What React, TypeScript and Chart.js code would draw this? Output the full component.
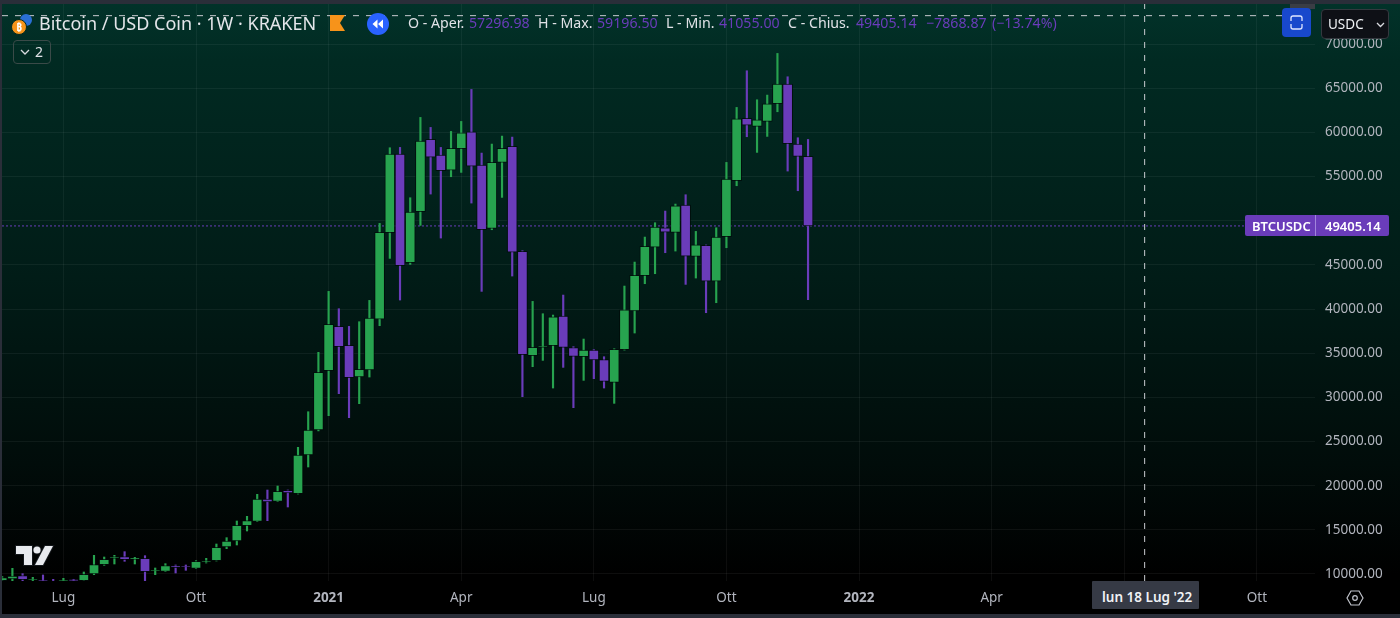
import React, { useEffect, useRef } from "react";
import { Chart, registerables } from "chart.js";

Chart.register(...registerables);

const FONT = '"Noto Sans", sans-serif';
const GREEN = "#27a34f";
const PURPLE = "#6a3cba";

const weekIndex = Array.from({ length: 80 }, (_, i) => i);
const opens = [9245,9434,9811,9321,9321,9208,9170,9358,9245,10000,11056,11773,11962,11660,11773,10340,10302,10943,10905,10641,11321,11509,13056,13735,15471,15962,18490,18226,19471,19094,23470,26300,33015,38033,35883,32298,33091,38863,48636,57540,45240,51013,59200,57427,55729,58143,60068,56295,49126,56597,58408,46523,34713,35656,35845,39203,35619,34600,35355,34261,31695,35392,39769,43768,47013,49201,48673,51767,45957,47202,43165,48183,54521,61577,60671,61237,63237,65463,58672,57296.98];
const closes = [9585,9774,9359,9434,9208,9150,9300,9245,9962,11056,11660,11962,11622,11811,10264,10453,10943,10717,10792,11434,11509,13018,13735,15509,16037,18490,18150,19358,19169,23470,26300,32827,38260,35732,32223,33166,38977,48673,57540,44900,50975,59011,57200,55653,58181,59955,56182,48975,56597,58181,46447,34826,35656,35807,39128,35656,34638,35355,34223,31808,35430,39920,43806,47089,49277,48711,51692,45994,47277,43165,48145,54710,61539,60822,61426,63237,65463,58709,57274,49405.14];
const highs = [9700,10641,10038,9623,9887,9396,9510,9400,10226,12113,11924,12113,12528,11887,12075,10679,11170,11019,11019,11509,11773,13396,14113,16000,16528,19018,19508,19961,19508,24338,28372,35092,41995,40033,38033,38562,40976,49692,58257,58295,52597,61690,60558,58294,60105,61237,64859,57653,58672,59577,59464,46600,40863,39467,39316,41580,35732,36600,35400,34600,35500,42599,45315,48145,49767,51088,51880,52937,48786,47250,49201,56597,62822,66972,63690,64218,68934,66293,59388,59196.5];
const lows = [9000,9245,9245,9208,9150,9000,9100,9100,9150,9925,10981,11132,11434,11132,9245,9925,10264,10113,10415,10600,11245,11472,12867,13283,14868,15924,16037,18188,17584,19056,22112,26200,27922,30412,27695,29280,32298,38109,45730,41014,45051,49466,53012,48032,54974,55465,51993,41995,48975,52635,43731,30072,33468,34185,31053,33393,28827,31921,32110,31053,29318,35350,37279,42863,43995,46372,46560,42787,43504,39580,40712,46938,53955,59502,57729,59540,62332,55616,53390,41055];

const priceTicks = [10000,15000,20000,25000,30000,35000,40000,45000,50000,55000,60000,65000,70000];
const timeTickWeeks = [6,19,32,45,58,71,84,97,110,123];
const timeTickLabels = ["Lug","Ott","2021","Apr","Lug","Ott","2022","Apr","","Ott"];
const boldTimeLabels = ["2021","2022"];

const lastPrice = 49405.14;
const crosshairPrice = 73210;
const crosshairWeek = 112;
const xMin = -0.02;
const xMax = 128.7;
const yMin = 9207;
const yMax = 74530;

function Txt(p: { x: number; y?: number; c?: string; s?: number; w?: number; children: React.ReactNode; title?: boolean }) {
  return (
    <span
      style={{
        position: "absolute",
        left: p.x,
        top: (p.y ?? 23) - 11,
        lineHeight: "22px",
        fontFamily: FONT,
        fontSize: p.s ?? 14.2,
        fontWeight: p.w ?? 400,
        color: p.c ?? "#e0e2e7",
        whiteSpace: "nowrap",
      }}
    >
      {p.children}
    </span>
  );
}

export default function App() {
  const ref = useRef<HTMLCanvasElement>(null);

  useEffect(() => {
    document.body.style.margin = "0";
    const colors = opens.map((o, i) => (closes[i] >= o ? GREEN : PURPLE));
    const chart = new Chart(ref.current!, {
      type: "bar",
      data: {
        datasets: [
          {
            type: "line",
            data: [{ x: crosshairWeek, y: yMin }, { x: crosshairWeek, y: yMax }],
            borderColor: "#c9cbd0",
            borderWidth: 1,
            borderDash: [6, 7],
            pointRadius: 0,
            order: 0,
          },
          {
            type: "line",
            data: [{ x: xMin, y: crosshairPrice }, { x: xMax, y: crosshairPrice }],
            borderColor: "#c9cbd0",
            borderWidth: 1,
            borderDash: [6, 7],
            pointRadius: 0,
            order: 0,
          },
          {
            data: weekIndex.map((x, i) => ({ x, y: [opens[i], closes[i]] })),
            backgroundColor: colors,
            borderColor: "rgba(0,10,8,0.75)",
            borderWidth: 1,
            borderSkipped: false,
            barThickness: 10,
            grouped: false,
            order: 1,
          },
          {
            data: weekIndex.map((x, i) => ({ x, y: [lows[i], highs[i]] })),
            backgroundColor: colors,
            borderWidth: 0,
            borderSkipped: false,
            barThickness: 1.5,
            grouped: false,
            order: 2,
          },
          {
            type: "line",
            data: [{ x: xMin, y: lastPrice }, { x: xMax, y: lastPrice }],
            borderColor: PURPLE,
            borderWidth: 1,
            borderDash: [2, 2],
            pointRadius: 0,
            order: 3,
          },
        ] as any,
      },
      options: {
        responsive: false,
        devicePixelRatio: 1,
        animation: false,
        layout: { padding: { left: 2, top: 4, right: 0, bottom: 4 } },
        plugins: { legend: { display: false }, tooltip: { enabled: false } },
        scales: {
          x: {
            type: "linear",
            min: xMin,
            max: xMax,
            offset: false,
            border: { display: false },
            grid: { color: "rgba(255,255,255,0.05)", drawTicks: false, offset: false },
            afterBuildTicks: (s: any) => {
              s.ticks = timeTickWeeks.map((value) => ({ value }));
            },
            afterFit: (s: any) => {
              s.height = 33;
              s.paddingLeft = 0;
              s.paddingRight = 0;
            },
            ticks: {
              autoSkip: false,
              maxRotation: 0,
              padding: 9,
              color: "#b2b5be",
              font: (ctx: any) => ({
                family: FONT,
                size: 13.5,
                weight: boldTimeLabels.includes(timeTickLabels[ctx.index]) ? "bold" : "normal",
              }),
              callback: (_v: any, i: number) => timeTickLabels[i],
            },
          },
          y: {
            position: "right",
            min: yMin,
            max: yMax,
            border: { display: false },
            grid: { color: "rgba(255,255,255,0.055)", drawTicks: false },
            afterBuildTicks: (s: any) => {
              s.ticks = priceTicks.map((value) => ({ value }));
            },
            afterFit: (s: any) => {
              s.width = 85;
              s.paddingTop = 0;
              s.paddingBottom = 0;
            },
            ticks: {
              autoSkip: false,
              padding: 10,
              color: "#b2b5be",
              font: { family: FONT, size: 13.5 },
              callback: (v: any) => Number(v).toFixed(2),
            },
          },
        },
      },
    });
    return () => chart.destroy();
  }, []);

  return (
    <div
      style={{
        position: "fixed",
        left: 0,
        top: 0,
        width: 1400,
        height: 618,
        overflow: "hidden",
        background: "linear-gradient(180deg,#02332a 0%,#012a22 10%,#011c17 45%,#010c0a 75%,#000000 93%)",
      }}
    >
      <canvas ref={ref} width={1400} height={618} style={{ position: "absolute", left: 0, top: 0, display: "block" }} />

      {/* frame */}
      <div style={{ position: "absolute", left: 0, top: 0, width: 1400, height: 4, background: "#2a2e39" }} />
      <div style={{ position: "absolute", left: 0, top: 614, width: 1400, height: 4, background: "#2a2e39" }} />
      <div style={{ position: "absolute", left: 0, top: 0, width: 2, height: 618, background: "#2a2e39" }} />

      {/* header */}
      <svg style={{ position: "absolute", left: 10, top: 12 }} width={28} height={26} viewBox="0 0 28 26">
        <circle cx={16} cy={8} r={6} fill="#2a6fd6" />
        <circle cx={9} cy={15} r={7.5} fill="#f7931a" stroke="#012a22" strokeWidth={1} />
        <text x={9} y={19} fontFamily={FONT} fontSize={10} fontWeight={700} fill="#fff" textAnchor="middle">₿</text>
      </svg>
      <Txt x={39} s={18} c="#e4e6ea">Bitcoin / USD Coin · 1W · KRAKEN</Txt>
      <svg style={{ position: "absolute", left: 330, top: 15 }} width={16} height={16} viewBox="0 0 16 16">
        <path d="M0 0H15L10 8L15 16H0Z" fill="#f7931a" />
      </svg>
      <svg style={{ position: "absolute", left: 367, top: 13 }} width={22} height={22} viewBox="0 0 22 22">
        <circle cx={11} cy={11} r={11} fill="#2962ff" />
        <path d="M10.5 6.5V15.5L5.5 11ZM16 6.5V15.5L11 11Z" fill="#fff" />
      </svg>
      <Txt x={408}>O - Aper.</Txt>
      <Txt x={469} c={PURPLE}>57296.98</Txt>
      <Txt x={538}>H - Max.</Txt>
      <Txt x={597} c={PURPLE}>59196.50</Txt>
      <Txt x={666}>L - Min.</Txt>
      <Txt x={719} c={PURPLE}>41055.00</Txt>
      <Txt x={788}>C - Chius.</Txt>
      <Txt x={856} c={PURPLE}>49405.14</Txt>
      <Txt x={926} c={PURPLE}>−7868.87</Txt>
      <Txt x={992} c={PURPLE}>(−13.74%)</Txt>

      {/* collapse button */}
      <div style={{ position: "absolute", left: 13, top: 40, width: 38, height: 24, boxSizing: "border-box", border: "1px solid #3a4a48", borderRadius: 4 }}>
        <svg style={{ position: "absolute", left: 6, top: 8 }} width={10} height={7} viewBox="0 0 10 7">
          <path d="M1 1L5 5L9 1" fill="none" stroke="#d8dae0" strokeWidth={1.3} />
        </svg>
        <Txt x={21} y={11} s={14}>2</Txt>
      </div>

      {/* top right buttons */}
      <div style={{ position: "absolute", left: 1290, top: 4, width: 25, height: 5, background: "#3a3d45" }} />
      <div style={{ position: "absolute", left: 1282, top: 8, width: 29, height: 29, borderRadius: 4, background: "#1848cc" }}>
        <svg style={{ position: "absolute", left: 6, top: 6 }} width={17} height={17} viewBox="0 0 17 17">
          <path d="M3 7V4Q3 2 5 2H12Q14 2 14 4V7M3 10V13Q3 15 5 15H12Q14 15 14 13V10" fill="none" stroke="#dfe6ff" strokeWidth={1.3} />
        </svg>
      </div>
      <div style={{ position: "absolute", left: 1321, top: 9, width: 68, height: 30, boxSizing: "border-box", borderRadius: 4, background: "#0e1016", border: "1px solid #34383f" }}>
        <Txt x={6} y={14} s={13.5} c="#f0f2f5">USDC</Txt>
        <svg style={{ position: "absolute", left: 54, top: 12 }} width={9} height={6} viewBox="0 0 9 6">
          <path d="M1 1L4.5 4.5L8 1" fill="none" stroke="#d8dae0" strokeWidth={1.3} />
        </svg>
      </div>

      {/* last price label */}
      <div style={{ position: "absolute", left: 1245, top: 215, width: 144, height: 21, borderRadius: 2, background: PURPLE }}>
        <div style={{ position: "absolute", left: 70, top: 0, width: 1, height: 21, background: "#a184dc" }} />
        <Txt x={7} y={10.5} s={13} w={600} c="#fff">BTCUSDC</Txt>
        <Txt x={80} y={10.5} s={13} w={600} c="#fff">49405.14</Txt>
      </div>

      {/* crosshair time label */}
      <div style={{ position: "absolute", left: 1092, top: 581, width: 107, height: 28, background: "#363a45", borderRadius: 1 }}>
        <Txt x={10} y={16} s={13.5} w={600} c="#f0f2f5">lun 18 Lug '22</Txt>
      </div>

      {/* settings gear */}
      <svg style={{ position: "absolute", left: 1346, top: 589 }} width={18} height={18} viewBox="0 0 18 18">
        <path d="M5 2H13L17 9L13 16H5L1 9Z" fill="none" stroke="#c0c3cb" strokeWidth={1.2} />
        <circle cx={9} cy={9} r={2.3} fill="none" stroke="#c0c3cb" strokeWidth={1.2} />
      </svg>

      {/* logo */}
      <svg style={{ position: "absolute", left: 14, top: 543 }} width={42} height={25} viewBox="0 0 42 25">
        <g stroke="#14181c" strokeWidth={2} paintOrder="stroke">
          <path d="M2 3H18V22H10V11H2Z" fill="#e8eaee" />
          <circle cx={23} cy={7} r={3.6} fill="#e8eaee" />
          <path d="M31 3H39L29 22H21Z" fill="#e8eaee" />
        </g>
      </svg>
    </div>
  );
}
